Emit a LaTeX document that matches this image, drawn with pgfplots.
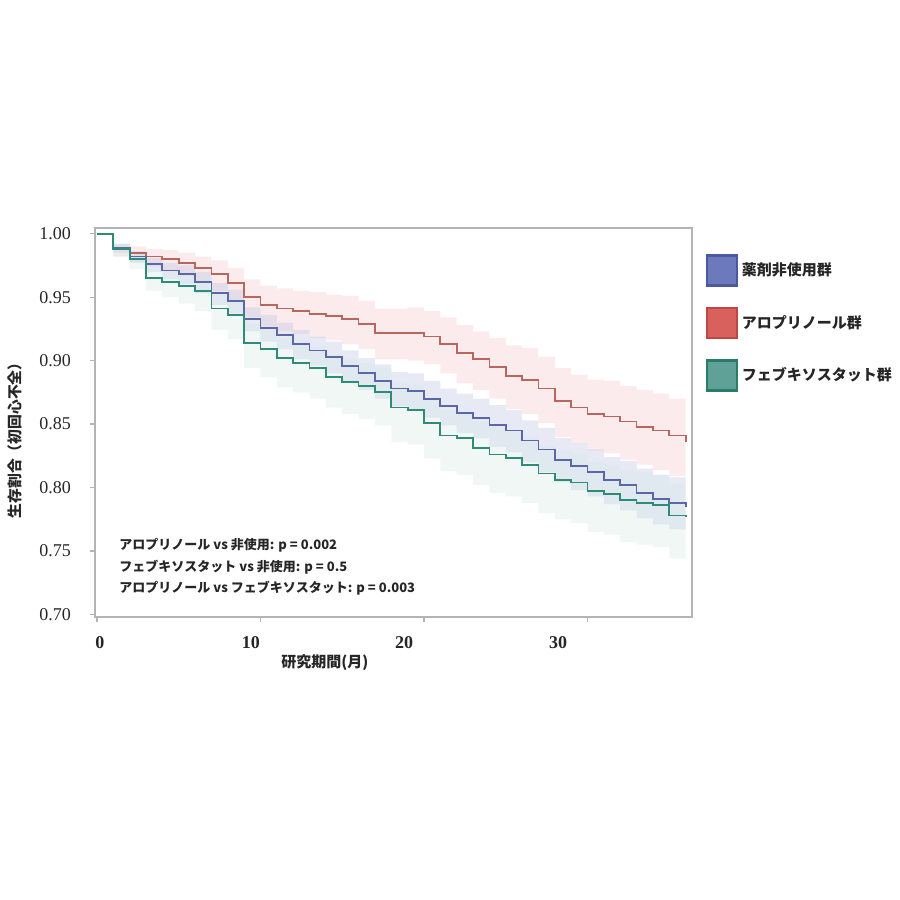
\documentclass[border=0pt]{standalone}
\usepackage{fontspec}
\setmainfont{Liberation Serif}
\newfontfamily\cjk{Noto Sans CJK JP}
\usepackage{pgfplots}
\usepackage{pgfplotstable}
\usepgfplotslibrary{fillbetween}
\pgfplotsset{compat=1.18}

\definecolor{axgray}{HTML}{B4B4B4}
\definecolor{blueline}{HTML}{5B67A6}
\definecolor{redline}{HTML}{B8675E}
\definecolor{tealline}{HTML}{2E8B78}
\definecolor{blueband}{HTML}{C3C9E6}
\definecolor{redband}{HTML}{F5CDCF}
\definecolor{tealband}{HTML}{D3E8E3}
\definecolor{bluefill}{HTML}{6C7ABB}
\definecolor{bluedk}{HTML}{4A59A0}
\definecolor{redfill}{HTML}{D8615E}
\definecolor{reddk}{HTML}{C04646}
\definecolor{tealfill}{HTML}{5FA197}
\definecolor{tealdk}{HTML}{2B7A6A}

\pgfplotstableread{
t s lo hi
0 1.000 1.000 1.000
1 0.988 0.982 0.992
2 0.985 0.978 0.990
3 0.982 0.974 0.988
4 0.980 0.971 0.987
5 0.977 0.967 0.985
6 0.973 0.962 0.982
7 0.968 0.955 0.979
8 0.961 0.947 0.973
9 0.950 0.934 0.964
10 0.944 0.927 0.959
11 0.941 0.923 0.957
12 0.939 0.921 0.955
13 0.937 0.918 0.954
14 0.935 0.916 0.952
15 0.933 0.913 0.951
16 0.929 0.909 0.947
17 0.922 0.901 0.941
18 0.922 0.901 0.941
19 0.922 0.900 0.942
20 0.919 0.897 0.939
21 0.913 0.890 0.934
22 0.906 0.882 0.928
23 0.901 0.877 0.923
24 0.895 0.870 0.918
25 0.888 0.862 0.912
26 0.885 0.858 0.910
27 0.878 0.851 0.903
28 0.868 0.840 0.894
29 0.863 0.835 0.889
30 0.858 0.829 0.885
31 0.856 0.827 0.884
32 0.852 0.822 0.880
33 0.848 0.818 0.877
34 0.845 0.814 0.874
35 0.841 0.809 0.870
36 0.836 0.804 0.866
}\redtab

\pgfplotstableread{
t s lo hi
0 1.000 1.000 1.000
1 0.989 0.985 0.992
2 0.982 0.977 0.986
3 0.976 0.970 0.981
4 0.971 0.964 0.977
5 0.968 0.960 0.975
6 0.962 0.953 0.970
7 0.953 0.944 0.961
8 0.947 0.937 0.956
9 0.933 0.923 0.942
10 0.926 0.915 0.936
11 0.920 0.909 0.930
12 0.913 0.901 0.924
13 0.908 0.896 0.919
14 0.903 0.890 0.915
15 0.896 0.883 0.908
16 0.890 0.877 0.902
17 0.884 0.870 0.897
18 0.878 0.864 0.891
19 0.876 0.861 0.890
20 0.870 0.855 0.884
21 0.864 0.849 0.878
22 0.859 0.843 0.874
23 0.855 0.839 0.870
24 0.849 0.832 0.865
25 0.845 0.828 0.861
26 0.837 0.820 0.853
27 0.830 0.812 0.847
28 0.822 0.804 0.839
29 0.817 0.798 0.835
30 0.812 0.793 0.830
31 0.806 0.787 0.824
32 0.802 0.782 0.821
33 0.796 0.776 0.815
34 0.791 0.771 0.810
35 0.788 0.767 0.808
36 0.785 0.764 0.805
}\bluetab

\pgfplotstableread{
t s lo hi
0 1.000 1.000 1.000
1 0.988 0.982 0.992
2 0.980 0.972 0.986
3 0.965 0.955 0.973
4 0.962 0.950 0.971
5 0.959 0.945 0.969
6 0.955 0.939 0.966
7 0.941 0.924 0.953
8 0.936 0.917 0.950
9 0.914 0.894 0.929
10 0.909 0.887 0.925
11 0.902 0.879 0.918
12 0.898 0.875 0.915
13 0.894 0.870 0.911
14 0.887 0.863 0.905
15 0.883 0.858 0.901
16 0.880 0.854 0.898
17 0.875 0.849 0.894
18 0.863 0.836 0.882
19 0.861 0.834 0.881
20 0.851 0.823 0.871
21 0.841 0.813 0.861
22 0.839 0.810 0.860
23 0.831 0.802 0.852
24 0.826 0.796 0.848
25 0.823 0.793 0.845
26 0.818 0.788 0.840
27 0.811 0.780 0.833
28 0.806 0.775 0.829
29 0.804 0.772 0.827
30 0.797 0.765 0.820
31 0.795 0.763 0.818
32 0.790 0.757 0.814
33 0.788 0.755 0.812
34 0.786 0.753 0.810
35 0.778 0.744 0.803
36 0.777 0.743 0.802
}\tealtab

\begin{document}
\begin{tikzpicture}
\begin{axis}[
  at={(0pt,0pt)}, anchor=south west,
  scale only axis, width=298.5pt, height=194.5pt,
  xmin=-0.12, xmax=36.39, ymin=0.698, ymax=1.0045,
  axis line style={draw=axgray, line width=0.6pt},
  tick style={draw=axgray, line width=0.6pt},
  tick align=outside, major tick length=2.5pt,
  xtick pos=bottom, ytick pos=left,
  xtick={0,10,20,30}, xticklabels={},
  ytick={0.7,0.75,0.8,0.85,0.9,0.95,1},
  yticklabels={0.70,0.75,0.80,0.85,0.90,0.95,1.00},
  /pgf/number format/assume math mode=true,
  yticklabel style={font=\fontsize{9}{10}\selectfont, text=black!85, xshift=-6pt},
  extra x ticks={0.18,9.42,18.78,28.2},
  extra x tick labels={0,10,20,30},
  extra x tick style={major tick length=0pt, tick style={draw=none},
     xticklabel style={font=\bfseries\fontsize{9}{10}\selectfont, text=black!85, yshift=-6pt}},
  xlabel={研究期間(月)},
  xlabel style={font=\cjk\bfseries\fontsize{7.5}{9}\selectfont, text=black!85, at={(axis description cs:0.385,-0.118)}, anchor=center},
  ylabel={生存割合（初回心不全）},
  ylabel style={font=\cjk\bfseries\fontsize{7.4}{9}\selectfont, text=black!85, at={(axis description cs:-0.134,0.463)}, anchor=center, rotate=0},
  legend style={at={(axis description cs:1.022,0.933)}, anchor=north west, draw=none, fill=none,
     row sep=10pt, inner sep=0pt, font=\cjk\bfseries\fontsize{7.5}{9}\selectfont, text=black!85,
     nodes={inner sep=2pt}},
  legend cell align=left,
  clip=false,
]
% bands
\addplot[name path=rhi, draw=none, const plot, forget plot] table[x=t,y=hi]{\redtab};
\addplot[name path=rlo, draw=none, const plot, forget plot] table[x=t,y=lo]{\redtab};
\addplot[fill=redband, fill opacity=0.4, draw=none, forget plot] fill between[of=rhi and rlo];
\addplot[name path=bhi, draw=none, const plot, forget plot] table[x=t,y=hi]{\bluetab};
\addplot[name path=blo, draw=none, const plot, forget plot] table[x=t,y=lo]{\bluetab};
\addplot[fill=blueband, fill opacity=0.4, draw=none, forget plot] fill between[of=bhi and blo];
\addplot[name path=thi, draw=none, const plot, forget plot] table[x=t,y=hi]{\tealtab};
\addplot[name path=tlo, draw=none, const plot, forget plot] table[x=t,y=lo]{\tealtab};
\addplot[fill=tealband, fill opacity=0.35, draw=none, forget plot] fill between[of=thi and tlo];
% lines
\addplot[const plot, draw=redline, line width=0.9pt, forget plot] table[x=t,y=s]{\redtab};
\addplot[const plot, draw=blueline, line width=0.9pt, forget plot] table[x=t,y=s]{\bluetab};
\addplot[const plot, draw=tealline, line width=0.9pt, forget plot] table[x=t,y=s]{\tealtab};
% legend
\addlegendimage{legend image code/.code={\draw[draw=bluedk, fill=bluefill, line width=1.2pt] (0pt,-7.5pt) rectangle (15pt,7.5pt);}}
\addlegendentry{薬剤非使用群}
\addlegendimage{legend image code/.code={\draw[draw=reddk, fill=redfill, line width=1.2pt] (0pt,-7.5pt) rectangle (15pt,7.5pt);}}
\addlegendentry{アロプリノール群}
\addlegendimage{legend image code/.code={\draw[draw=tealdk, fill=tealfill, line width=1.2pt] (0pt,-7.5pt) rectangle (15pt,7.5pt);}}
\addlegendentry{フェブキソスタット群}
% annotations
\node[anchor=west, font=\cjk\bfseries\fontsize{6.5}{7}\selectfont, text=black!85, inner sep=0pt] at (axis cs:1.35,0.7545) {アロプリノール vs 非使用: p = 0.002};
\node[anchor=west, font=\cjk\bfseries\fontsize{6.5}{7}\selectfont, text=black!85, inner sep=0pt] at (axis cs:1.35,0.7375) {フェブキソスタット vs 非使用: p = 0.5};
\node[anchor=west, font=\cjk\bfseries\fontsize{6.5}{7}\selectfont, text=black!85, inner sep=0pt] at (axis cs:1.35,0.7206) {アロプリノール vs フェブキソスタット: p = 0.003};
\end{axis}
\pgfresetboundingbox
\path[use as bounding box] (-47.5pt,-141.5pt) rectangle (402.5pt,308.5pt);
\end{tikzpicture}
\end{document}
